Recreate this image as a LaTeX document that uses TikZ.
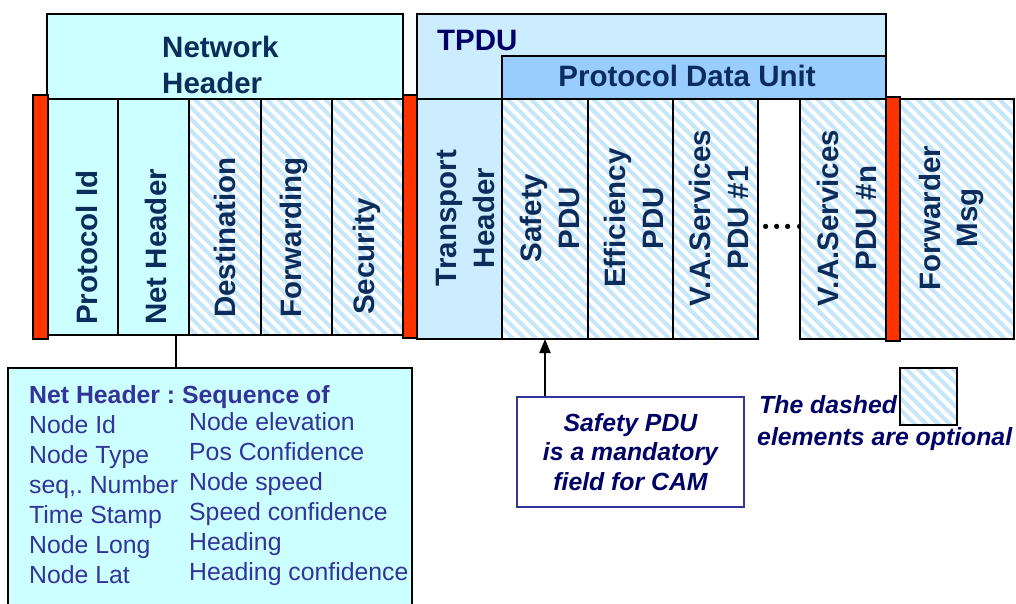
\documentclass[tikz,border=0pt]{standalone}
\usepackage{fontspec}
\setmainfont{Liberation Sans}
\newfontfamily\dotfont{Latin Modern Roman}
\frenchspacing
\usetikzlibrary{arrows.meta}
\definecolor{cyanfill}{HTML}{CCFFFF}
\definecolor{tpdufill}{HTML}{CCECFF}
\definecolor{pdufill}{HTML}{99CCFF}
\definecolor{stripe}{HTML}{C6E6FA}
\definecolor{redbar}{HTML}{FF3300}
\definecolor{navy}{HTML}{0C2C5C}
\definecolor{deepnavy}{HTML}{000066}
\definecolor{infotext}{HTML}{333399}
\begin{document}
\begin{tikzpicture}[x=1pt,y=-1pt,
  box/.style={draw=black, line width=1.5pt, inner sep=0pt, outer sep=0pt, anchor=north west},
  hatched/.style={fill=white, path picture={
      \foreach \k in {-252,-240.3,...,130}{
        \draw[stripe, line width=4pt] ([xshift=\k pt]path picture bounding box.north west) -- ++(300,300);}}},
  redstrip/.style={box, fill=redbar},
  bigtext/.style={font=\bfseries\fontsize{29.5}{36}\selectfont, text=navy, inner sep=0pt},
  collabel/.style={bigtext, rotate=90, anchor=base west},
  collabel2/.style={bigtext, rotate=90, anchor=base},
  infotxt/.style={font=\fontsize{24.8}{30}\selectfont, text=infotext, inner sep=0pt, anchor=base west},
  legendtxt/.style={font=\bfseries\itshape\fontsize{24.8}{30}\selectfont, text=deepnavy, inner sep=0pt, anchor=base west},
  link/.style={draw=black, line width=2pt}
]
\useasboundingbox (0,0) rectangle (1016,603);

% ---- headers
\node[box, fill=cyanfill, minimum width=356, minimum height=85] (nethead) at (47,14) {};
\node[box, fill=tpdufill, minimum width=469, minimum height=85] (tpdu) at (417,14) {};
\node[box, fill=pdufill, minimum width=384, minimum height=43] (pdubar) at (502,56) {};
\node[bigtext, anchor=base west] (nhl1) at (162,57) {Network};
\node[bigtext, anchor=base west] (nhl2) at (162,93) {Header};
\node[bigtext, text=deepnavy, anchor=base west] (tpdul) at (437,50) {TPDU};
\node[bigtext, anchor=base] (pdul) at (687,86) {Protocol Data Unit};

% ---- network columns
\node[box, fill=cyanfill, minimum width=70, minimum height=236] (pidcol) at (48,99) {};
\node[box, fill=cyanfill, minimum width=71, minimum height=236] (nhcol) at (118,99) {};
\node[box, hatched, minimum width=72, minimum height=236] (destcol) at (189,99) {};
\node[box, hatched, minimum width=71, minimum height=236] (fwdcol) at (261,99) {};
\node[box, hatched, minimum width=71, minimum height=236] (seccol) at (332,99) {};
\node[collabel] (pidl) at (97,325) {Protocol Id};
\node[collabel] (nhcl) at (166,325) {Net Header};
\node[collabel] (destl) at (235,318) {Destination};
\node[collabel] (fwdl) at (301,318) {Forwarding};
\node[collabel] (secl) at (374,315) {Security};

% ---- transport columns
\node[box, fill=tpdufill, minimum width=85, minimum height=240] (thcol) at (417,99) {};
\node[box, hatched, minimum width=86, minimum height=240] (safcol) at (502,99) {};
\node[box, hatched, minimum width=85, minimum height=240] (effcol) at (588,99) {};
\node[box, hatched, minimum width=85, minimum height=240] (vaonecol) at (673,99) {};
\node[inner sep=0pt, font=\dotfont\bfseries\fontsize{36}{36}\selectfont, text=black, anchor=base west] (dots) at (760,229) {....};
\node[box, hatched, minimum width=86, minimum height=240] (vancol) at (800,99) {};
\node[box, hatched, minimum width=114, minimum height=240] (fmcol) at (900,99) {};

\node[collabel2] (thl1) at (456,218) {Transport};
\node[collabel2] (thl2) at (494,218) {Header};
\node[collabel2] (safl1) at (541,218) {Safety};
\node[collabel2] (safl2) at (579,218) {PDU};
\node[collabel2] (effl1) at (625,218) {Efficiency};
\node[collabel2] (effl2) at (663,218) {PDU};
\node[collabel2] (vaonel1) at (710,218) {V.A.Services};
\node[collabel2] (vaonel2) at (748,218) {PDU \#1};
\node[collabel2] (vanl1) at (838,218) {V.A.Services};
\node[collabel2] (vanl2) at (876,218) {PDU \#n};
\node[collabel2] (fml1) at (940,218) {Forwarder};
\node[collabel2] (fml2) at (977,218) {Msg};

% ---- red separators
\node[redstrip, minimum width=15, minimum height=244] (rb1) at (33,95) {};
\node[redstrip, minimum width=14, minimum height=243] (rb2) at (403,95) {};
\node[redstrip, minimum width=14, minimum height=244] (rb3) at (886,97) {};

% ---- net header detail box
\node[box, line width=2pt, fill=cyanfill, minimum width=404, minimum height=250] (info) at (8,368) {};
\coordinate (nhc) at ([xshift=22pt]nhcol.south);
\draw[link] (nhc) -- (nhc |- info.north);
\node[infotxt, font=\bfseries\fontsize{24.8}{30}\selectfont] (infohead) at (29,403) {Net Header : Sequence of};
\foreach \t [count=\i] in {Node Id, Node Type, {seq,. Number}, Time Stamp, Node Long, Node Lat}
  \node[infotxt] (left\i) at (29,403+30*\i) {\t};
\foreach \t [count=\i] in {Node elevation, Pos Confidence, Node speed, Speed confidence, Heading, Heading confidence}
  \node[infotxt] (right\i) at (189,400+30*\i) {\t};

% ---- callout
\node[draw=infotext, line width=1.5pt, fill=white, minimum width=227, minimum height=110,
      font=\bfseries\itshape\fontsize{24.8}{29.5}\selectfont, text=deepnavy, align=center]
      (callout) at (630.5,452) {Safety PDU\\is a mandatory\\field for CAM};
\draw[link, -{Triangle[length=14pt, width=11pt]}] (safcol.south |- callout.north) -- (safcol.south);

% ---- legend
\node[legendtxt] (leg1) at (759,413) {The dashed};
\node[legendtxt] (leg2) at (757,445) {elements are optional};
\node[box, hatched, minimum width=57, minimum height=57] (legbox) at (900,368) {};
\end{tikzpicture}
\end{document}
